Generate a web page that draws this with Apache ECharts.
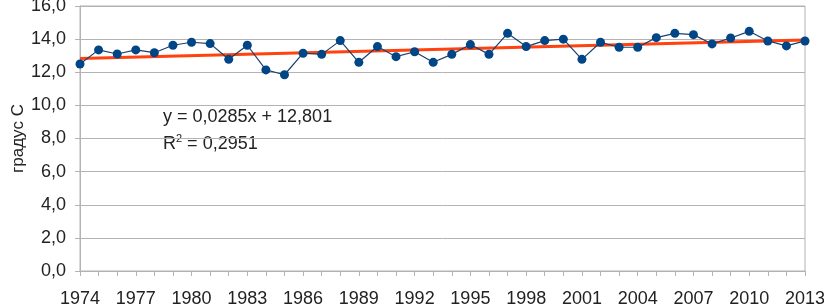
<!DOCTYPE html>
<html>
<head>
<meta charset="utf-8">
<script src="https://cdn.jsdelivr.net/npm/echarts@6/dist/echarts.min.js"></script>
<style>
  html, body { margin: 0; padding: 0; background: #fff; }
  #main { width: 824px; height: 306px; }
</style>
</head>
<body>
<div id="main"></div>
<script>
const years = [];
for (let y = 1974; y <= 2013; y++) years.push(String(y));

const temps = [
  12.50, 13.35, 13.10, 13.35, 13.18, 13.63, 13.81, 13.73, 12.78, 13.63,
  12.14, 11.85, 13.15, 13.08, 13.91, 12.60, 13.55, 12.94, 13.24, 12.60,
  13.08, 13.67, 13.08, 14.35, 13.55, 13.91, 14.00, 12.78, 13.81, 13.51,
  13.51, 14.09, 14.35, 14.27, 13.71, 14.07, 14.47, 13.89, 13.59, 13.89
];

// trend line ends
const trendStart = 12.83;
const trendEnd = 13.94;

const eqLine = "y = 0,0285x + 12,801";
const r2Value = "0,2951";

const trendData = years.map((_, i) =>
  i === 0 ? trendStart : i === years.length - 1 ? trendEnd : null
);

const gridColor = "#b3b3b3";
const textColor = "#222";
const font = "Liberation Sans, Arial, sans-serif";

const chart = echarts.init(document.getElementById("main"));
chart.setOption({
  animation: false,
  grid: {
    left: 80,
    right: 19,
    top: 6,
    bottom: 35,
    outerBoundsMode: "none",
    containLabel: false,
    show: true,
    borderColor: gridColor,
    borderWidth: 1,
  },
  xAxis: {
    type: "category",
    data: years,
    boundaryGap: false,
    axisLine: { lineStyle: { color: gridColor } },
    axisTick: {
      interval: 0,
      length: 5,
      lineStyle: { color: gridColor },
    },
    axisLabel: {
      interval: 2,
      margin: 19,
      color: textColor,
      fontSize: 18,
      fontFamily: font,
    },
  },
  yAxis: {
    type: "value",
    min: 0,
    max: 16,
    interval: 2,
    name: "градус С",
    nameLocation: "middle",
    nameGap: 53,
    nameMoveOverlap: false,
    nameTextStyle: { color: textColor, fontSize: 17, fontFamily: font },
    axisLine: { show: true, lineStyle: { color: gridColor } },
    axisTick: { show: true, length: 5, lineStyle: { color: gridColor } },
    splitLine: { lineStyle: { color: gridColor } },
    axisLabel: {
      margin: 14,
      color: textColor,
      fontSize: 18,
      fontFamily: font,
      formatter: (v) => v.toFixed(1).replace(".", ","),
    },
  },
  series: [
    {
      name: "trend",
      type: "line",
      data: trendData,
      connectNulls: true,
      symbol: "none",
      lineStyle: { color: "#ff420e", width: 3 },
      z: 2,
    },
    {
      name: "temp",
      type: "line",
      data: temps,
      symbol: "circle",
      symbolSize: 9,
      itemStyle: { color: "#004586" },
      lineStyle: { color: "#1c3f6e", width: 1.2 },
      z: 3,
    },
  ],
  graphic: [
    {
      type: "text",
      left: 163,
      top: 108,
      style: {
        text: eqLine,
        fill: textColor,
        font: "18px " + font,
      },
    },
    {
      type: "text",
      left: 163,
      top: 133,
      style: {
        text: "{r|R}{s|2}{r| = " + r2Value + "}",
        rich: {
          r: { fill: textColor, font: "18px " + font, verticalAlign: "bottom" },
          s: { fill: textColor, font: "11px " + font, verticalAlign: "top", padding: [0, 0, 9, 0] },
        },
      },
    },
  ],
});
</script>
</body>
</html>
